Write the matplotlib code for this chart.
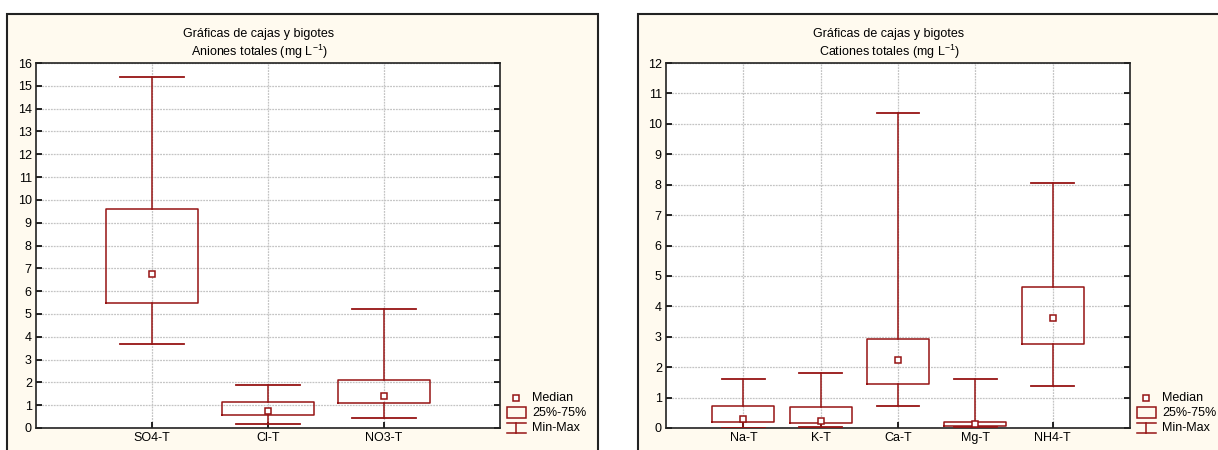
import matplotlib
matplotlib.use("Agg")
import matplotlib.pyplot as plt
from matplotlib.patches import Rectangle

plt.rcParams['font.family'] = ['Liberation Sans', 'DejaVu Sans']

# --- datos ---
aniones = ['SO4-T', 'Cl-T', 'NO3-T']
an_min = [3.68, 0.16, 0.42]
an_q1 = [5.50, 0.57, 1.11]
an_med = [6.73, 0.73, 1.42]
an_q3 = [9.58, 1.14, 2.12]
an_max = [15.37, 1.87, 5.22]

cationes = ['Na-T', 'K-T', 'Ca-T', 'Mg-T', 'NH4-T']
ca_min = [0.01, 0.04, 0.71, 0.04, 1.37]
ca_q1 = [0.20, 0.18, 1.46, 0.08, 2.76]
ca_med = [0.30, 0.23, 2.24, 0.12, 3.61]
ca_q3 = [0.72, 0.69, 2.94, 0.20, 4.65]
ca_max = [1.60, 1.81, 10.36, 1.61, 8.07]

ROJO = '#961414'
CREMA = '#fffaef'


def cajas(ax, nombres, vmin, q1, med, q3, vmax, ymax, titulo):
    stats = []
    for i, n in enumerate(nombres):
        stats.append(dict(label=n, whislo=vmin[i], q1=q1[i], med=med[i],
                          q3=q3[i], whishi=vmax[i], fliers=[]))
    pos = list(range(1, len(nombres) + 1))
    ax.bxp(stats, positions=pos, widths=0.8, capwidths=0.55,
           showfliers=False, patch_artist=False,
           boxprops=dict(color=ROJO, lw=1.1),
           whiskerprops=dict(color=ROJO, lw=1.1),
           capprops=dict(color=ROJO, lw=1.3),
           medianprops=dict(visible=False), zorder=3)
    ax.plot(pos, med, ls='none', marker='s', ms=4.5, mfc='white',
            mec=ROJO, mew=1.1, zorder=4)

    ax.set_xlim(0, len(nombres) + 1)
    ax.set_ylim(0, ymax)
    ax.set_yticks(range(0, ymax + 1))
    ax.set_xticks(pos)
    ax.set_xticklabels(nombres)
    ax.grid(True, color='#c4c4c4', lw=0.9, ls=(0, (1.5, 0.8)), zorder=0)
    ax.set_axisbelow(True)
    ax.tick_params(direction='in', length=4, width=1.2, labelsize=9,
                   right=True, top=False, pad=3)
    for s in ax.spines.values():
        s.set_linewidth(1.2)
        s.set_color('#222222')
    w = ax.get_window_extent().width
    h = ax.get_window_extent().height
    ax.set_title('Gráficas de cajas y bigotes\n' + titulo, fontsize=9,
                 linespacing=1.25, pad=5, x=0.5 - 9 / w)

    # leyenda a la derecha
    tr = ax.transAxes
    lx = 1 + 16 / w
    hx = 9.5 / w
    tx = 1 + 32 / w
    ax.plot([lx], [30 / h], transform=tr, ls='none', marker='s', ms=4.5,
            mfc='white', mec=ROJO, mew=1.1, clip_on=False)
    ax.add_patch(Rectangle((lx - hx, 10 / h), 2 * hx, 11 / h, transform=tr,
                           fill=False, ec=ROJO, lw=1.1, clip_on=False))
    ax.plot([lx - hx, lx + hx], [5 / h, 5 / h], transform=tr, color=ROJO,
            lw=1.1, clip_on=False)
    ax.plot([lx, lx], [5 / h, -5 / h], transform=tr, color=ROJO,
            lw=1.1, clip_on=False)
    ax.plot([lx - hx, lx + hx], [-5 / h, -5 / h], transform=tr, color=ROJO,
            lw=1.1, clip_on=False)
    for yy, t in [(30, 'Median'), (15, '25%-75%'), (0, 'Min-Max')]:
        ax.text(tx, yy / h, t, transform=tr, fontsize=9, va='center',
                ha='left')


fig = plt.figure(figsize=(12.18, 4.5), dpi=100)
W, H = 1218, 450

# marcos de los paneles
fig.patches.append(Rectangle((7 / W, -0.1), 591 / W, 1.1 - 14 / H,
                             transform=fig.transFigure, fc=CREMA,
                             ec='#222222', lw=1.5, zorder=-1))
fig.patches.append(Rectangle((638 / W, -0.1), 0.6, 1.1 - 14 / H,
                             transform=fig.transFigure, fc=CREMA,
                             ec='#222222', lw=1.5, zorder=-1))

ax1 = fig.add_axes([36 / W, 22 / H, 464 / W, 365 / H])
ax2 = fig.add_axes([666 / W, 22 / H, 464 / W, 365 / H])

cajas(ax1, aniones, an_min, an_q1, an_med, an_q3, an_max, 16,
      r'Aniones totales (mg L$^{\mathregular{-1}}$)')
cajas(ax2, cationes, ca_min, ca_q1, ca_med, ca_q3, ca_max, 12,
      r'Cationes totales (mg L$^{\mathregular{-1}}$)')

fig.savefig('out.png', dpi=100)
